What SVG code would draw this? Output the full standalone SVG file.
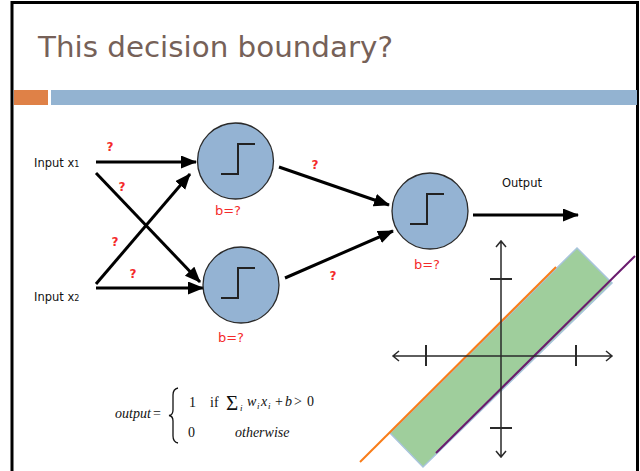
<svg xmlns="http://www.w3.org/2000/svg" width="640" height="471" viewBox="0 0 640 471">
<defs>
<style>
.title{font-family:"DejaVu Sans",sans-serif;font-size:28px;fill:#766158}
.lbl{font-family:"DejaVu Sans",sans-serif;font-size:11.5px;fill:#111}
.q{font-family:"DejaVu Sans",sans-serif;font-size:12px;font-weight:bold;fill:#f42a2a}
.b{font-family:"DejaVu Sans",sans-serif;font-size:13px;fill:#f42a2a}
.node{fill:#94b3d3;stroke:#2a2a2a;stroke-width:1.3}
.step{fill:none;stroke:#222;stroke-width:2}
.conn{stroke:#000;stroke-width:3;fill:none;marker-end:url(#ah)}
.m{font-family:"Liberation Serif",serif;font-size:14px;fill:#111}
.sig{font-family:"Liberation Serif",serif;font-size:21px;fill:#111}
.mi{font-family:"Liberation Serif",serif;font-size:14px;font-style:italic;fill:#111}
.sub{font-family:"Liberation Serif",serif;font-size:9px;font-style:italic;fill:#111}
.ax{stroke:#2a2a2a;stroke-width:1.5;fill:none}
.tk{stroke:#2a2a2a;stroke-width:2;fill:none}
</style>
<marker id="ah" markerUnits="userSpaceOnUse" markerWidth="18" markerHeight="14" refX="15" refY="6.5" orient="auto">
<path d="M0,0 L16,6.5 L0,13 z" fill="#000"/>
</marker>
</defs>
<rect width="640" height="471" fill="#fff"/>
<path d="M12,471 V2.5 H637.5 V471" fill="none" stroke="#000" stroke-width="3"/>
<text class="title" x="38" y="57" textLength="355" lengthAdjust="spacingAndGlyphs">This decision boundary?</text>
<rect x="14" y="90" width="34" height="15" fill="#df8147"/>
<rect x="51" y="90" width="586" height="15" fill="#93b3d1"/>

<g id="input1"><text class="lbl" x="34" y="167">Input x<tspan font-size="8">1</tspan></text></g>
<g id="input2"><text class="lbl" x="34" y="301">Input x<tspan font-size="8">2</tspan></text></g>

<g id="connectors">
<line class="conn" x1="96" y1="162" x2="196" y2="162"/>
<line class="conn" x1="96" y1="173" x2="200" y2="282"/>
<line class="conn" x1="96" y1="284" x2="190" y2="174"/>
<line class="conn" x1="96" y1="288" x2="203" y2="288"/>
<line class="conn" x1="279" y1="167" x2="389" y2="205"/>
<line class="conn" x1="285" y1="278" x2="393" y2="231"/>
<line class="conn" x1="473" y1="215" x2="578" y2="215"/>
</g>

<g id="weights">
<text class="q" x="110" y="151" text-anchor="middle">?</text>
<text class="q" x="122" y="191" text-anchor="middle">?</text>
<text class="q" x="115" y="246" text-anchor="middle">?</text>
<text class="q" x="133" y="278" text-anchor="middle">?</text>
<text class="q" x="315" y="169" text-anchor="middle">?</text>
<text class="q" x="333" y="280" text-anchor="middle">?</text>
</g>

<g id="node1">
<circle class="node" cx="235.5" cy="161" r="38"/>
<path class="step" d="M221,174 H238 V144 H255"/>
<text class="b" x="228" y="215" text-anchor="middle">b=?</text>
</g>
<g id="node2">
<circle class="node" cx="241" cy="285" r="38"/>
<path class="step" d="M221,298 H238 V268 H255"/>
<text class="b" x="231" y="342" text-anchor="middle">b=?</text>
</g>
<g id="node3">
<circle class="node" cx="430" cy="211" r="38"/>
<path class="step" d="M410,224 H427 V194 H444"/>
<text class="b" x="427" y="269" text-anchor="middle">b=?</text>
</g>
<g id="output"><text class="lbl" x="502" y="187">Output</text></g>

<g id="formula">
<text class="mi" x="115" y="418">output</text>
<text class="m" x="153" y="418">=</text>
<path d="M178,388 Q173,389 173,395 L173,410 Q173,415 169,415.5 Q173,416 173,421 L173,436 Q173,442 178,443" fill="none" stroke="#111" stroke-width="1.3"/>
<text class="m" x="189" y="407">1</text>
<text class="m" x="210" y="407">if</text>
<text class="sig" x="226" y="410">Σ</text>
<text class="sub" x="240" y="411">i</text>
<text class="mi" x="247" y="406">w</text>
<text class="sub" x="257" y="409">i</text>
<text class="mi" x="261" y="406">x</text>
<text class="sub" x="268" y="409">i</text>
<text class="m" x="275" y="406">+</text>
<text class="mi" x="285" y="406">b</text>
<text class="m" x="294" y="406">&gt;</text>
<text class="m" x="307" y="406">0</text>
<text class="m" x="188" y="437">0</text>
<text class="mi" x="235" y="437">otherwise</text>
</g>

<g id="plot">
<polygon points="577,248 612,283 423,467 390,433" fill="#9fce9c" stroke="#a8c4dc" stroke-width="1.5"/>
<line x1="360" y1="462" x2="556" y2="267" stroke="#f97d19" stroke-width="2"/>
<line x1="436" y1="453" x2="635" y2="256" stroke="#6a1b6e" stroke-width="2"/>
<path class="ax" d="M393,356 H612 M399,351 L393,356 L399,361 M606,351 L612,356 L606,361"/>
<path class="ax" d="M501,241 V457 M496,247 L501,241 L506,247 M496,451 L501,457 L506,451"/>
<path class="tk" d="M426,345 V366 M576,345 V366 M490,279 H512 M490,428 H512"/>
</g>
</svg>
